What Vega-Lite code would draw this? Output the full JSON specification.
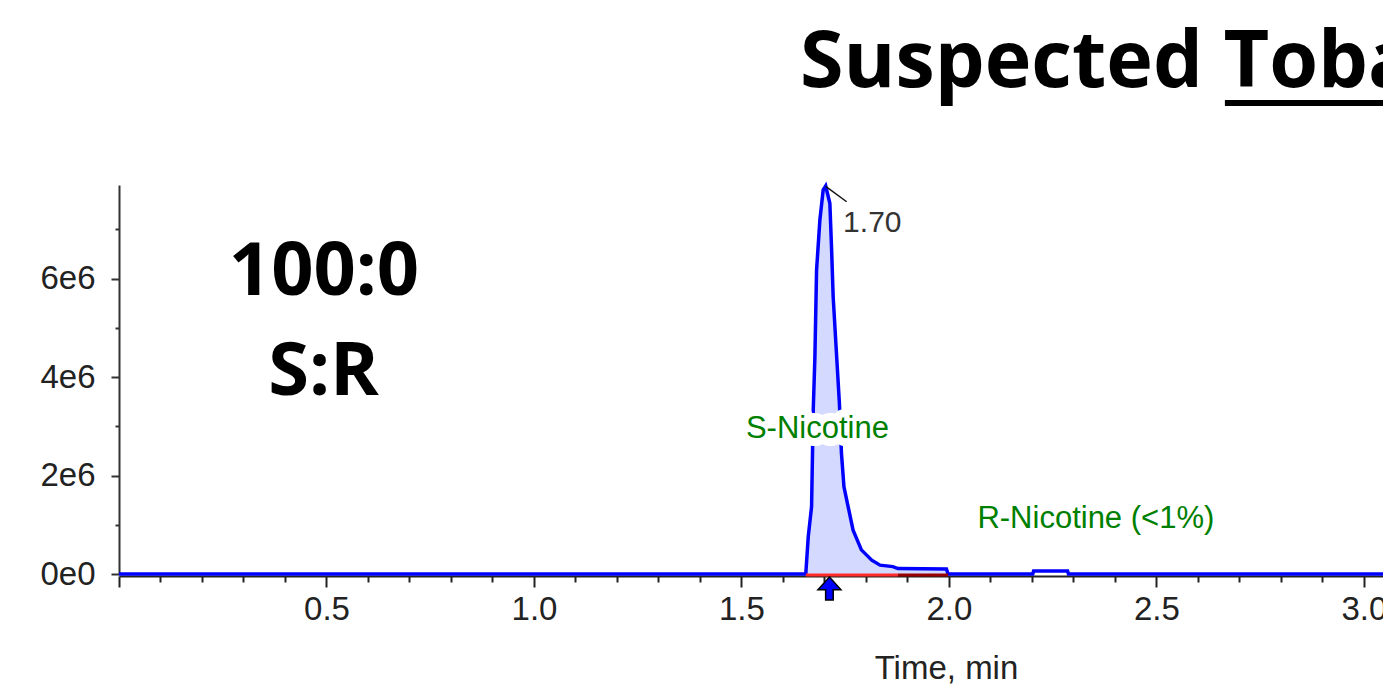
{
  "$schema": "https://vega.github.io/schema/vega-lite/v6.json",
  "width": 1264,
  "height": 389,
  "autosize": {"type": "none"},
  "padding": {"left": 119, "top": 185, "right": 0, "bottom": 115},
  "background": "white",
  "config": {"view": {"stroke": null}},
  "datasets": {
    "chrom": [
      {"time": 0, "signal": 0},
      {"time": 1.655, "signal": 0},
      {"time": 1.661, "signal": 760000},
      {"time": 1.669, "signal": 1370000},
      {"time": 1.673, "signal": 3330000},
      {"time": 1.677, "signal": 4410000},
      {"time": 1.681, "signal": 6170000},
      {"time": 1.689, "signal": 7190000},
      {"time": 1.697, "signal": 7800000},
      {"time": 1.703, "signal": 7880000},
      {"time": 1.713, "signal": 7530000},
      {"time": 1.717, "signal": 6650000},
      {"time": 1.721, "signal": 5630000},
      {"time": 1.728, "signal": 4620000},
      {"time": 1.736, "signal": 3470000},
      {"time": 1.741, "signal": 2450000},
      {"time": 1.747, "signal": 1770000},
      {"time": 1.757, "signal": 1370000},
      {"time": 1.769, "signal": 890000},
      {"time": 1.789, "signal": 490000},
      {"time": 1.814, "signal": 280000},
      {"time": 1.834, "signal": 180000},
      {"time": 1.865, "signal": 150000},
      {"time": 1.877, "signal": 110000},
      {"time": 1.994, "signal": 100000},
      {"time": 1.998, "signal": 0},
      {"time": 2.202, "signal": 0},
      {"time": 2.204, "signal": 60000},
      {"time": 2.286, "signal": 60000},
      {"time": 2.288, "signal": 0},
      {"time": 3.1, "signal": 0}
    ],
    "integration": [
      {"time": 1.655, "end": 1.877, "part": "main"},
      {"time": 1.877, "end": 1.998, "part": "tail"}
    ],
    "marker": [{"time": 1.712, "signal": 0}],
    "leader": [{"time": 1.703, "signal": 7870000, "time2": 1.7535, "signal2": 7560000}],
    "notes": [
      {"label": "1.70", "time": 1.745, "signal": 6940000, "kind": "peak"},
      {"label": "S-Nicotine", "time": 1.683, "signal": 2755000, "kind": "compound"},
      {"label": "R-Nicotine (<1%)", "time": 2.354, "signal": 928000, "kind": "compound"},
      {"label": "100:0", "time": 0.494, "signal": 5665000, "kind": "ratio"},
      {"label": "S:R", "time": 0.493, "signal": 3635000, "kind": "ratio"},
      {"label": "Suspected Tobacco", "time": 1.641, "signal": 9888000, "kind": "heading"}
    ],
    "underline": [{"time": 2.665, "time2": 3.2, "signal": 9563000}]
  },
  "layer": [
    {
      "data": {"name": "chrom"},
      "transform": [{"filter": "datum.time >= 1.655 && datum.time <= 1.998"}],
      "mark": {"type": "area", "color": "#d4d9ff"},
      "encoding": {
        "x": {
          "field": "time", "type": "quantitative",
          "scale": {"domain": [0, 3.046], "nice": false, "zero": false},
          "axis": {
            "title": "Time, min",
            "values": [0,0.1,0.2,0.3,0.4,0.5,0.6,0.7,0.8,0.9,1.0,1.1,1.2,1.3,1.4,1.5,1.6,1.7,1.8,1.9,2.0,2.1,2.2,2.3,2.4,2.5,2.6,2.7,2.8,2.9,3.0],
            "labelExpr": "(abs(datum.value*2 - round(datum.value*2)) < 0.001 && datum.value > 0) ? format(datum.value, '.1f') : ''",
            "tickSize": {"condition": {"test": "abs(datum.value*2 - round(datum.value*2)) < 0.001", "value": 11}, "value": 6},
            "offset": 2,
            "domainColor": "#222",
            "domainWidth": 2,
            "tickColor": "#222",
            "tickWidth": 2,
            "labelFont": "Liberation Sans",
            "labelFontSize": 33,
            "labelColor": "#222",
            "labelPadding": 6,
            "labelOverlap": false,
            "labelFlush": false,
            "labelBound": false,
            "grid": false,
            "titleFont": "Liberation Sans",
            "titleFontSize": 33,
            "titleFontWeight": "normal",
            "titleColor": "#222",
            "titleX": 827,
            "titleY": 102,
            "titleAlign": "center",
            "titleBaseline": "alphabetic"
          }
        },
        "y": {
          "field": "signal", "type": "quantitative",
          "scale": {"domain": [0, 7900000], "nice": false},
          "axis": {
            "title": null,
            "values": [0,1000000,2000000,3000000,4000000,5000000,6000000,7000000],
            "labelExpr": "datum.value == 0 ? '0e0' : (datum.value % 2000000 == 0 ? (datum.value/1000000) + 'e6' : '')",
            "tickSize": {"condition": {"test": "datum.value % 2000000 == 0", "value": 8}, "value": 4},
            "domainColor": "#333",
            "domainWidth": 2,
            "tickColor": "#333",
            "tickWidth": 2,
            "labelFont": "Liberation Sans",
            "labelFontSize": 33,
            "labelColor": "#222",
            "labelPadding": 16,
            "labelOverlap": false,
            "labelFlush": false,
            "labelBound": false,
            "grid": false
          }
        }
      }
    },
    {
      "data": {"name": "chrom"},
      "mark": {"type": "line", "color": "#0000ff", "strokeWidth": 3.5},
      "encoding": {
        "x": {"field": "time", "type": "quantitative"},
        "y": {"field": "signal", "type": "quantitative"}
      }
    },
    {
      "data": {"name": "integration"},
      "mark": {"type": "rule", "strokeWidth": 3, "yOffset": 1},
      "encoding": {
        "x": {"field": "time", "type": "quantitative"},
        "x2": {"field": "end"},
        "y": {"datum": 0, "type": "quantitative"},
        "color": {"field": "part", "type": "nominal", "scale": {"domain": ["main", "tail"], "range": ["#ff2a2a", "#990000"]}, "legend": null}
      }
    },
    {
      "data": {"name": "marker"},
      "mark": {"type": "point", "shape": "M0,-1 L1,0.1 L0.33,0.1 L0.33,1 L-0.33,1 L-0.33,0.1 L-1,0.1 Z", "size": 529, "filled": true, "fill": "#0000ff", "stroke": "#000000", "strokeWidth": 1.5, "opacity": 1, "yOffset": 14.5},
      "encoding": {
        "x": {"field": "time", "type": "quantitative"},
        "y": {"field": "signal", "type": "quantitative"}
      }
    },
    {
      "data": {"name": "leader"},
      "mark": {"type": "rule", "color": "#111", "strokeWidth": 1.5},
      "encoding": {
        "x": {"field": "time", "type": "quantitative"},
        "y": {"field": "signal", "type": "quantitative"},
        "x2": {"field": "time2"},
        "y2": {"field": "signal2"}
      }
    },
    {
      "data": {"name": "notes"},
      "transform": [{"filter": "datum.kind == 'peak'"}],
      "mark": {"type": "text", "align": "left", "baseline": "alphabetic", "font": "Liberation Sans", "fontSize": 30, "color": "#333"},
      "encoding": {
        "x": {"field": "time", "type": "quantitative"},
        "y": {"field": "signal", "type": "quantitative"},
        "text": {"field": "label"}
      }
    },
    {
      "data": {"name": "notes"},
      "transform": [{"filter": "datum.kind == 'compound'"}],
      "mark": {"type": "text", "align": "center", "baseline": "alphabetic", "font": "Liberation Sans", "fontSize": 31, "fill": "white", "stroke": "white", "strokeWidth": 16, "strokeJoin": "round"},
      "encoding": {
        "x": {"field": "time", "type": "quantitative"},
        "y": {"field": "signal", "type": "quantitative"},
        "text": {"field": "label"}
      }
    },
    {
      "data": {"name": "notes"},
      "transform": [{"filter": "datum.kind == 'compound'"}],
      "mark": {"type": "text", "align": "center", "baseline": "alphabetic", "font": "Liberation Sans", "fontSize": 31, "color": "#008000"},
      "encoding": {
        "x": {"field": "time", "type": "quantitative"},
        "y": {"field": "signal", "type": "quantitative"},
        "text": {"field": "label"}
      }
    },
    {
      "data": {"name": "notes"},
      "transform": [{"filter": "datum.kind == 'ratio'"}],
      "mark": {"type": "text", "align": "center", "baseline": "alphabetic", "font": "Open Sans", "fontWeight": "bold", "fontSize": 74, "color": "#000000"},
      "encoding": {
        "x": {"field": "time", "type": "quantitative"},
        "y": {"field": "signal", "type": "quantitative"},
        "text": {"field": "label"}
      }
    },
    {
      "data": {"name": "notes"},
      "transform": [{"filter": "datum.kind == 'heading'"}],
      "mark": {"type": "text", "align": "left", "baseline": "alphabetic", "font": "Open Sans", "fontWeight": "bold", "fontSize": 79, "color": "#000000"},
      "encoding": {
        "x": {"field": "time", "type": "quantitative"},
        "y": {"field": "signal", "type": "quantitative"},
        "text": {"field": "label"}
      }
    },
    {
      "data": {"name": "underline"},
      "mark": {"type": "rule", "color": "#000000", "strokeWidth": 6},
      "encoding": {
        "x": {"field": "time", "type": "quantitative"},
        "x2": {"field": "time2"},
        "y": {"field": "signal", "type": "quantitative"}
      }
    }
  ]
}
